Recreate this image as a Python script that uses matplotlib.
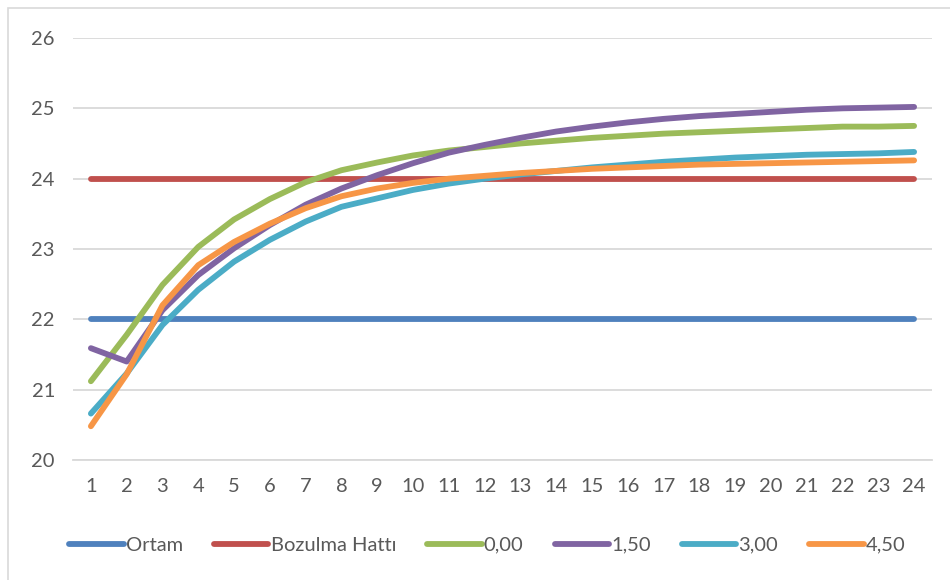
import numpy as np
import matplotlib.pyplot as plt
from matplotlib.patches import Rectangle

plt.rcParams['font.family'] = ['Lato', 'DejaVu Sans']

x = np.arange(1, 25)
ortam = [22.0] * 24
bozulma = [24.0] * 24
s000 = [21.12, 21.78, 22.49, 23.03, 23.42, 23.71, 23.95, 24.12, 24.23, 24.33, 24.40, 24.45,
        24.50, 24.54, 24.58, 24.61, 24.64, 24.66, 24.68, 24.70, 24.72, 24.74, 24.74, 24.75]
s150 = [21.59, 21.40, 22.13, 22.63, 23.01, 23.34, 23.63, 23.86, 24.05, 24.22, 24.37, 24.48,
        24.58, 24.67, 24.74, 24.80, 24.85, 24.89, 24.92, 24.95, 24.98, 25.00, 25.01, 25.02]
s300 = [20.66, 21.23, 21.92, 22.42, 22.82, 23.13, 23.39, 23.60, 23.72, 23.84, 23.93, 24.00,
        24.06, 24.11, 24.16, 24.20, 24.24, 24.27, 24.30, 24.32, 24.34, 24.35, 24.36, 24.38]
s450 = [20.48, 21.22, 22.20, 22.77, 23.10, 23.36, 23.58, 23.75, 23.86, 23.94, 24.00, 24.04,
        24.08, 24.11, 24.14, 24.16, 24.18, 24.20, 24.21, 24.22, 24.23, 24.24, 24.25, 24.26]

series = [("Ortam", ortam, "#4f81bd"),
          ("Bozulma Hattı", bozulma, "#c0504d"),
          ("0,00", s000, "#9bbb59"),
          ("1,50", s150, "#8064a2"),
          ("3,00", s300, "#4bacc6"),
          ("4,50", s450, "#f79646")]

fig = plt.figure(figsize=(9.5, 5.8), dpi=100)
ax = fig.add_axes([73/950, 1-460/580, (932-73)/950, (460-38)/580])

for name, vals, col in series:
    ax.plot(x, vals, color=col, lw=4.2, solid_capstyle="round", label=name)

ax.set_xlim(0.5, 24.5)
ax.set_ylim(20, 26)
ax.set_xticks(x)
ax.set_yticks(range(20, 27))
ax.grid(axis="y", color="#d9d9d9", lw=1.3)
ax.set_axisbelow(True)
for sp in ["top", "right", "left"]:
    ax.spines[sp].set_visible(False)
ax.spines["bottom"].set_color("#d9d9d9")
ax.spines["bottom"].set_linewidth(1.3)
ax.tick_params(length=0, labelsize=14.5, colors="#595959")
ax.tick_params(axis="y", pad=13)
ax.tick_params(axis="x", pad=13)

leg = fig.legend(loc="center", bbox_to_anchor=(0.513, 1-545/580), ncol=6, frameon=False,
                 fontsize=14.5, labelcolor="#595959", handlelength=2.7, handletextpad=0.1,
                 columnspacing=1.55)
for h in leg.get_lines():
    h.set_linewidth(4.2)
    h.set_solid_capstyle("round")

fig.patches.append(Rectangle((8/950, -0.1), 1.2, 1.1-8/580, transform=fig.transFigure,
                             fill=False, edgecolor="#d9d9d9", lw=1.2))

fig.savefig("out.png", dpi=100)
